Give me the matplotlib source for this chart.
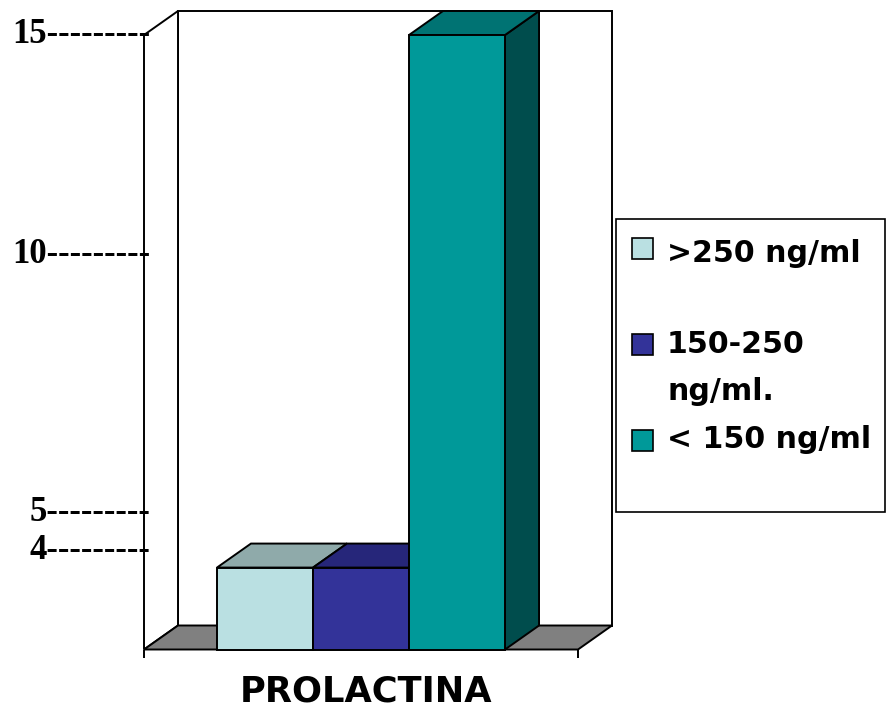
import matplotlib.pyplot as plt
from matplotlib.patches import Polygon, Rectangle
from matplotlib.transforms import ScaledTranslation

# data
categories = [">250 ng/ml", "150-250\nng/ml.", "< 150 ng/ml"]
values = [2, 2, 15]
ytick_labels = ["15", "10", "5", "4"]
xlabel = "PROLACTINA"

# where the hand-drawn scale labels sit on the value axis
ytick_pos = [15, 9.63, 3.33, 2.40]

front_colors = ["#BAE0E2", "#333399", "#009999"]
top_colors = ["#8FAAAA", "#26267A", "#007373"]
side_colors = ["#6E8A8A", "#1C1C5C", "#004D4D"]
floor_color = "#808080"

W, H = 888, 708
fig = plt.figure(figsize=(W / 100, H / 100), dpi=100)

# front-left corner of the floor and the top of the scale, in pixels
x0, x1 = 144, 578
y_floor, y_top = 649.5, 35
ax = fig.add_axes([x0 / W, 1 - y_floor / H, (x1 - x0) / W, (y_floor - y_top) / H])
ax.patch.set_visible(False)

gap = 0.76
xmax = len(values) + 2 * gap
ymax = 15
ax.set_xlim(0, xmax)
ax.set_ylim(0, ymax)

# depth of the 3-D box (34 x 24 px) in data units
dx = 34 / (x1 - x0) * xmax
dy = 24 / (y_floor - y_top) * ymax

lw = 1.4
kw = dict(edgecolor="black", linewidth=lw, clip_on=False, joinstyle="miter")

# walls and floor
ax.add_patch(Polygon([(dx, dy), (dx, ymax + dy), (xmax + dx, ymax + dy), (xmax + dx, dy)],
                     facecolor="white", zorder=1, **kw))
ax.add_patch(Polygon([(0, 0), (dx, dy), (dx, ymax + dy), (0, ymax)],
                     facecolor="white", zorder=1, **kw))
ax.add_patch(Polygon([(0, 0), (dx, dy), (xmax + dx, dy), (xmax, 0)],
                     facecolor=floor_color, zorder=2, **kw))

# bars, left to right so each front hides the previous side
z = 3
for i, v in enumerate(values):
    left = gap + i
    right = left + 1
    ax.add_patch(Polygon([(right, 0), (right + dx, dy), (right + dx, v + dy), (right, v)],
                         facecolor=side_colors[i], zorder=z, **kw))
    ax.add_patch(Polygon([(left, v), (left + dx, v + dy), (right + dx, v + dy), (right, v)],
                         facecolor=top_colors[i], zorder=z + 1, **kw))
    ax.add_patch(Rectangle((left, 0), 1, v, facecolor=front_colors[i], zorder=z + 2, **kw))
    z += 3

for s in ax.spines.values():
    s.set_visible(False)

# x axis: two end ticks and the category name
ax.set_xticks([0, xmax], ["", ""])
ax.tick_params(axis="x", direction="out", length=5.5, width=lw, color="black")
ax.set_xlabel(xlabel, fontsize=25.4, fontweight="bold", family="DejaVu Sans")
ax.xaxis.label.set_va("baseline")
ax.xaxis.set_label_coords((366 - x0) / (x1 - x0), -(701 - y_floor) / (y_floor - y_top))

# y axis: dashed labels that run into the wall
ax.set_yticks(ytick_pos, [t + "-" * 9 for t in ytick_labels])
ax.tick_params(axis="y", length=0, pad=-4.3)
shift = ScaledTranslation(0, -8 / 100, fig.dpi_scale_trans)
for lab in ax.get_yticklabels():
    lab.set_fontfamily("Liberation Serif")
    lab.set_fontweight("bold")
    lab.set_fontsize(25)
    lab.set_va("baseline")
    lab.set_transform(lab.get_transform() + shift)

# legend box
def fx(px):
    return px / W


def fy(py):
    return 1 - py / H


fig.add_artist(Rectangle((fx(616), fy(512)), fx(885) - fx(616), fy(219) - fy(512),
                         transform=fig.transFigure, fill=False, edgecolor="black", linewidth=1.2))
sq = 21
sq_centers = [248.5, 344, 440]
baselines = [262, 353, 448]
line_step = 47
for i, lab in enumerate(categories):
    fig.add_artist(Rectangle((fx(632), fy(sq_centers[i] + sq / 2)), sq / W, sq / H,
                             transform=fig.transFigure, facecolor=front_colors[i],
                             edgecolor="black", linewidth=1.2))
    for k, line in enumerate(lab.split("\n")):
        fig.text(fx(667), fy(baselines[i] + k * line_step), line, fontsize=21.6,
                 fontweight="bold", family="DejaVu Sans", va="baseline", ha="left")

fig.savefig("out.png", dpi=100)
